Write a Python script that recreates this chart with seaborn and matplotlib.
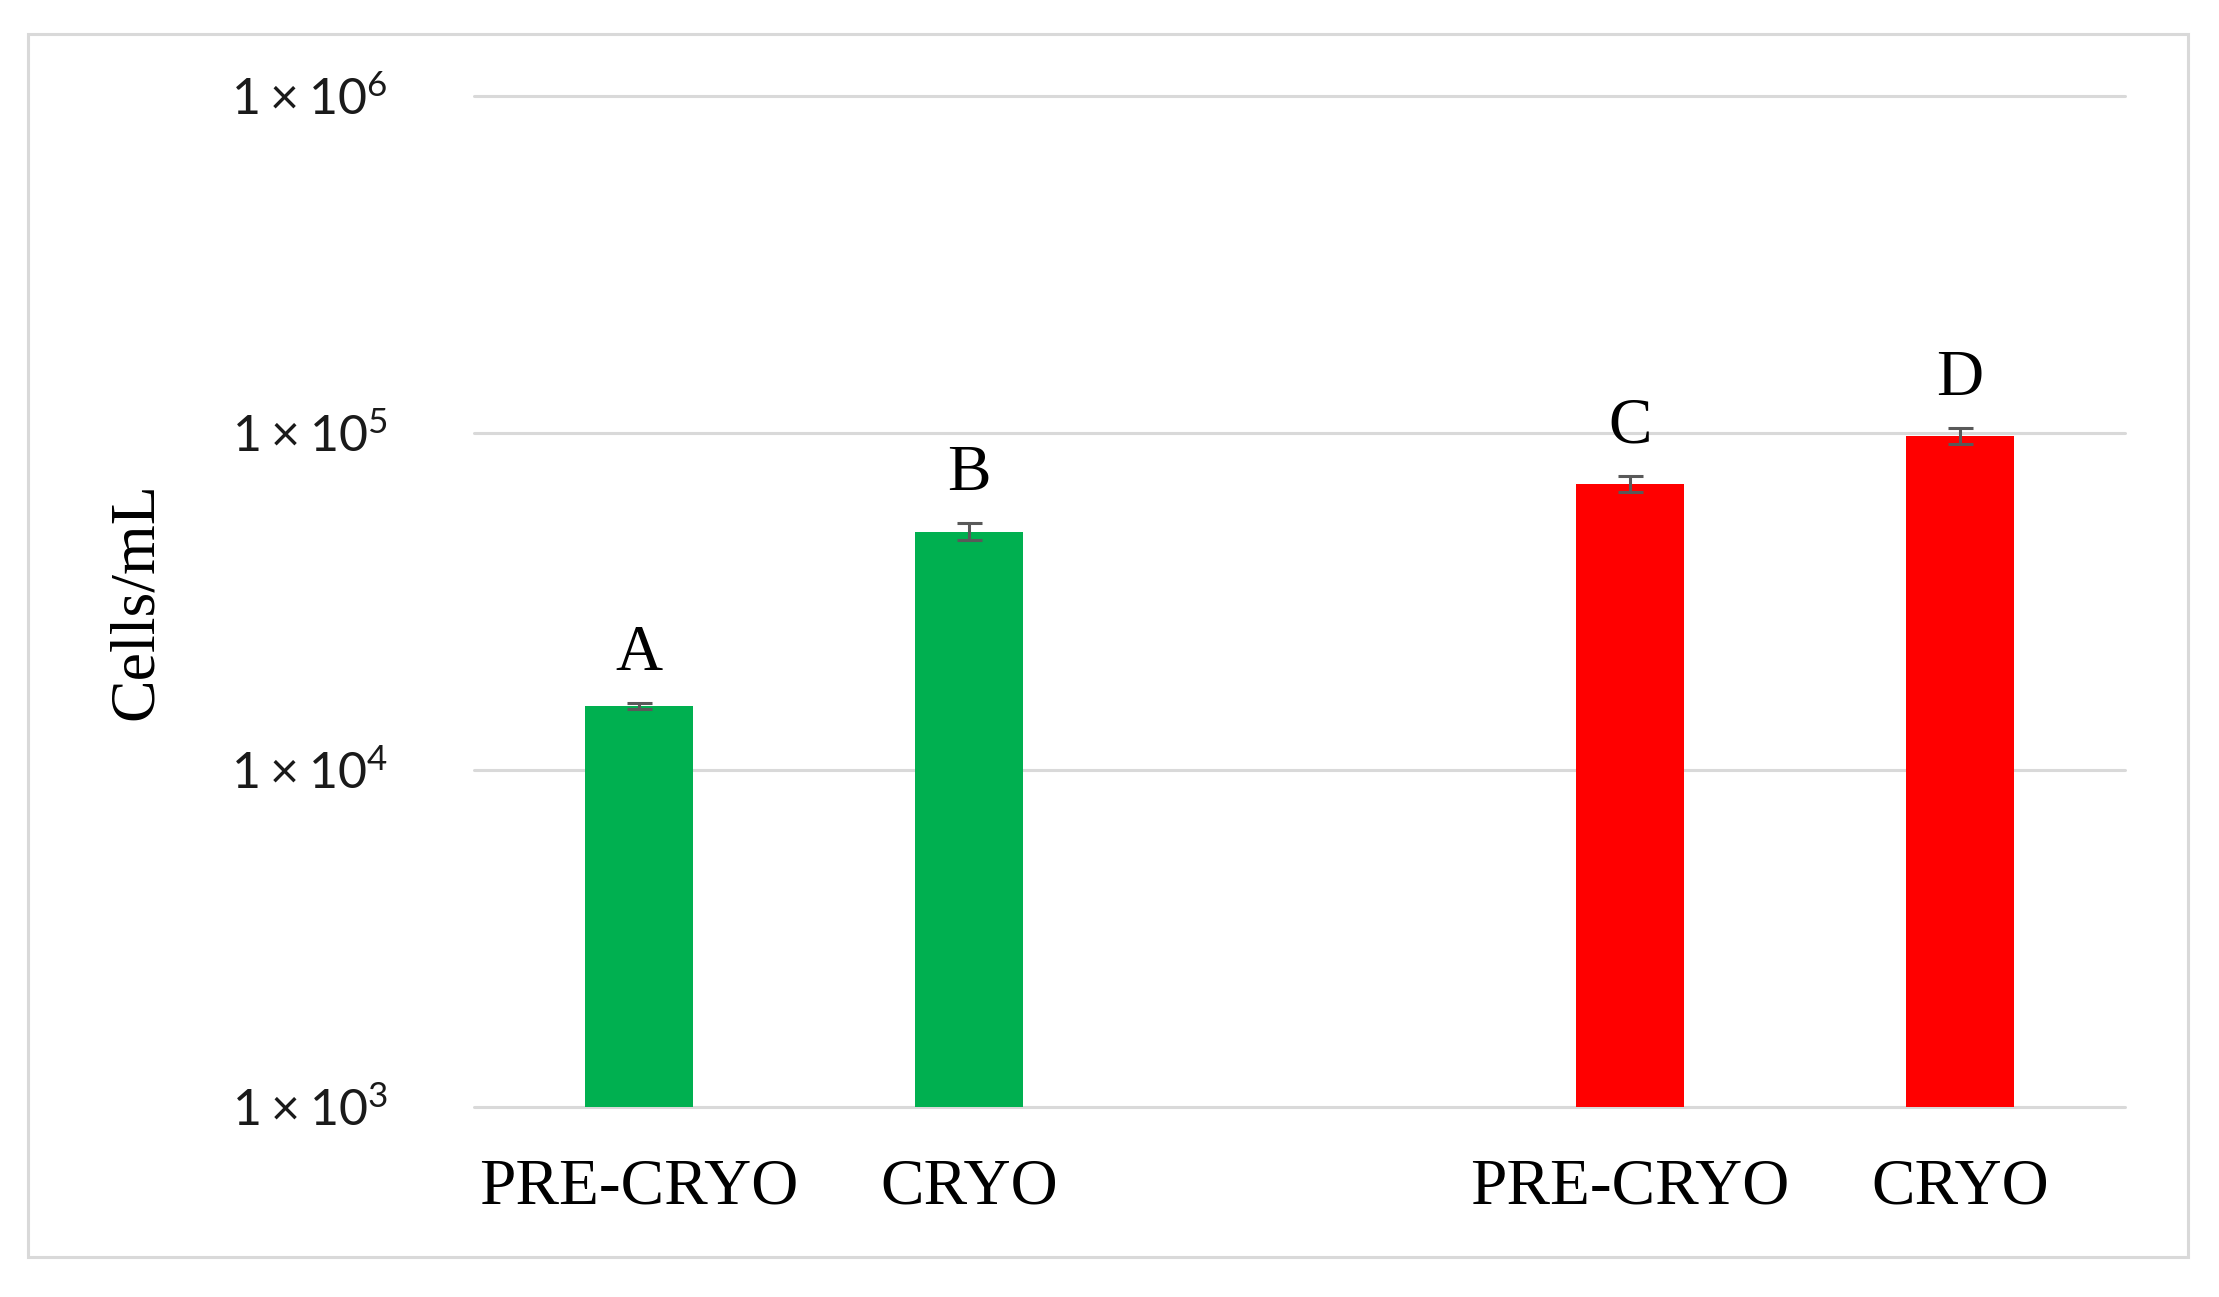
import matplotlib
matplotlib.use('Agg')
import matplotlib.pyplot as plt
import seaborn as sns
import pandas as pd
from matplotlib.patches import Rectangle

# ---- data ----
groups = ['green', 'green', 'red', 'red']
slots = ['green PRE-CRYO', 'green CRYO', 'red PRE-CRYO', 'red CRYO']
cells_per_ml = [15500, 51000, 70800, 98000]
errors = [300, 3000, 3800, 5500]
letters = ['A', 'B', 'C', 'D']
slot_order = ['green PRE-CRYO', 'green CRYO', 'gap', 'red PRE-CRYO', 'red CRYO']
xtick_labels = ['PRE-CRYO', 'CRYO', '', 'PRE-CRYO', 'CRYO']
ytick_values = [1e3, 1e4, 1e5, 1e6]
ytick_labels = [r'$\mathregular{1\times10^{3}}$', r'$\mathregular{1\times10^{4}}$',
                r'$\mathregular{1\times10^{5}}$', r'$\mathregular{1\times10^{6}}$']
palette = {'green': '#00B050', 'red': '#FF0000'}

df = pd.DataFrame({'slot': slots, 'group': groups, 'value': cells_per_ml})

sns.set_theme(style='white')
plt.rcParams['font.family'] = ['Liberation Serif', 'DejaVu Serif']

fig = plt.figure(figsize=(22.19, 12.97), dpi=100)
ax = fig.add_axes([474 / 2219, 1 - 1107 / 1297, (2125 - 474) / 2219, (1107 - 96) / 1297])

sns.barplot(data=df, x='slot', y='value', hue='group', order=slot_order,
            palette=palette, dodge=False, width=0.326, errorbar=None,
            legend=False, ax=ax, saturation=1, linewidth=0, zorder=3)
ax.set_yscale('log')
ax.set_ylim(1e3, 1e6)
ax.set_xlim(-0.5, len(slot_order) - 0.5)

# error bars and letters at bar centers
bars = [p for p in ax.patches if p.get_height() > 0]
bars.sort(key=lambda p: p.get_x())
for p, v, e, lab in zip(bars, cells_per_ml, errors, letters):
    xc = p.get_x() + p.get_width() / 2
    ax.errorbar(xc, v, yerr=e, color='#595959', capsize=9, capthick=2.2,
                elinewidth=2.2, zorder=4)
    ax.annotate(lab, (xc, v + e), xytext=(0, 24), textcoords='offset points',
                ha='center', va='baseline', fontsize=47, color='black',
                family=['Liberation Serif', 'DejaVu Serif'])

ax.set_yticks(ytick_values)
ax.set_yticklabels(ytick_labels, family=['Lato', 'DejaVu Sans'], fontsize=36, color='#1a1a1a')
ax.yaxis.set_minor_locator(matplotlib.ticker.NullLocator())
ax.set_xticks(range(len(slot_order)))
ax.set_xticklabels(xtick_labels, fontsize=47, color='black',
                   family=['Liberation Serif', 'DejaVu Serif'])
ax.tick_params(axis='y', length=0, pad=62)
ax.tick_params(axis='x', length=0, pad=37)

ax.grid(axis='y', color='#D9D9D9', linewidth=2.2, zorder=0)
ax.set_axisbelow(True)
for gl in ax.get_ygridlines():
    gl.set_clip_on(False)
for s in ax.spines.values():
    s.set_visible(False)

ax.set_xlabel('')
ax.set_ylabel('Cells/mL', fontsize=46, color='black',
              family=['Liberation Serif', 'DejaVu Serif'])
ax.yaxis.set_label_coords((137 - 474) / 1651, 0.5)
ax.yaxis.label.set_verticalalignment('center')

fig.patches.append(Rectangle((28 / 2219, 1 - 1257 / 1297), (2188 - 28) / 2219,
                             (1257 - 34) / 1297, transform=fig.transFigure,
                             fill=False, edgecolor='#D9D9D9', linewidth=2.2))

fig.savefig('out.png', dpi=100, facecolor='white')
